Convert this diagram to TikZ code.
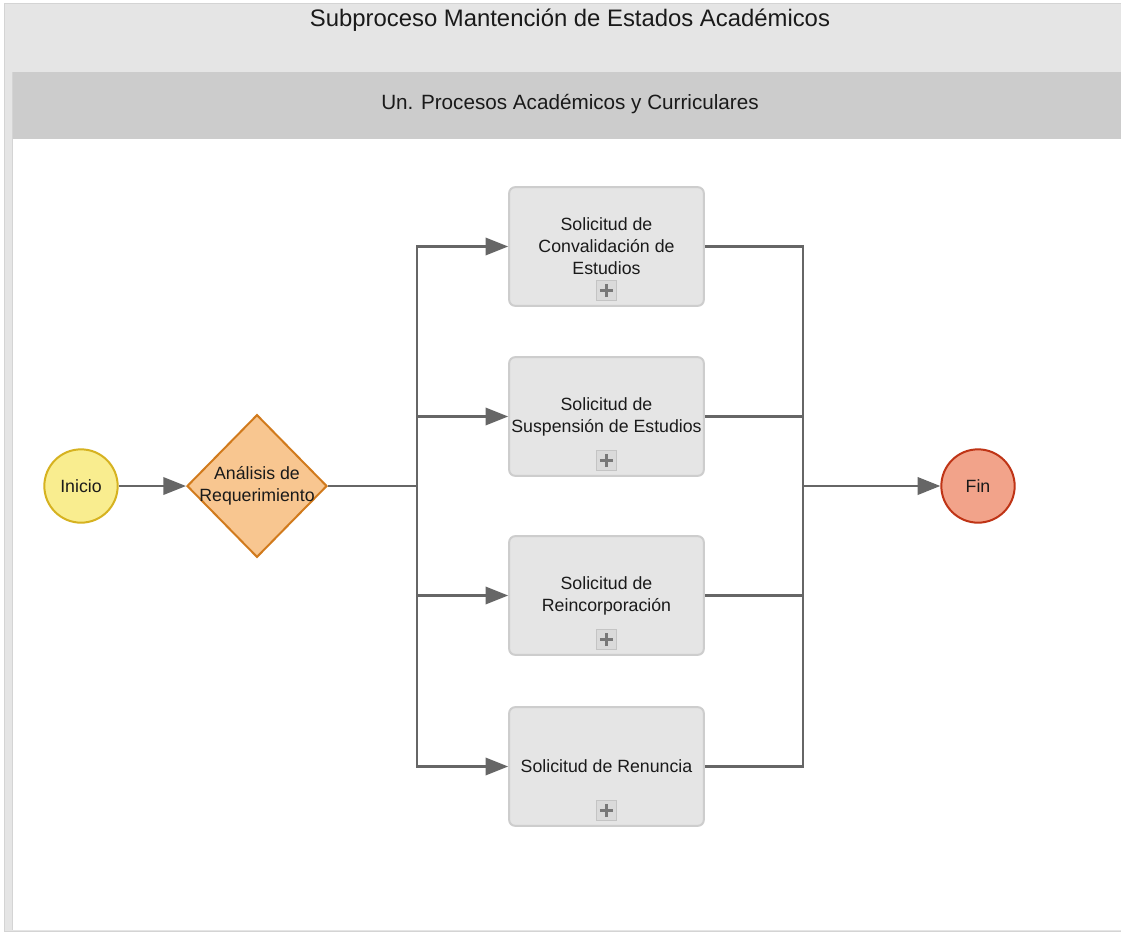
\documentclass[tikz,border=0pt]{standalone}
\usepackage{fontspec}
\setmainfont{Liberation Sans}
\usetikzlibrary{arrows.meta,calc,positioning,shapes.geometric}
\definecolor{PoolGray}{RGB}{229,229,229}
\definecolor{LaneGray}{RGB}{204,204,204}
\definecolor{FrameGray}{RGB}{212,212,212}
\definecolor{FlowGray}{RGB}{102,102,102}
\definecolor{InkBlack}{RGB}{26,26,26}
\definecolor{InicioFill}{RGB}{249,237,143}
\definecolor{InicioLine}{RGB}{214,178,32}
\definecolor{GateFill}{RGB}{248,198,144}
\definecolor{GateLine}{RGB}{209,122,28}
\definecolor{FinFill}{RGB}{242,163,138}
\definecolor{FinLine}{RGB}{191,52,22}
\definecolor{BoxFill}{RGB}{229,229,229}
\definecolor{BoxLine}{RGB}{205,205,205}
\definecolor{PlusFill}{RGB}{218,218,218}
\definecolor{PlusLine}{RGB}{196,196,196}
\definecolor{PlusInk}{RGB}{120,120,120}

\begin{document}
\begin{tikzpicture}[x=0.75pt,y=-0.75pt,>={Triangle[length=17pt,width=13pt]},
    every node/.style={text=InkBlack,font=\fontsize{13.3}{16.5}\selectfont},
    flow/.style={draw=FlowGray,line width=1.9pt},
    startev/.style={circle,draw=InicioLine,fill=InicioFill,line width=1.5pt,minimum size=55pt,inner sep=0pt},
    endev/.style={circle,draw=FinLine,fill=FinFill,line width=1.5pt,minimum size=55pt,inner sep=0pt},
    gateway/.style={diamond,draw=GateLine,fill=GateFill,line width=1.5pt,minimum width=105pt,minimum height=107pt,inner sep=0pt},
    subproc/.style={rectangle,rounded corners=4.5pt,draw=BoxLine,fill=BoxFill,line width=1.5pt,
      minimum width=146pt,minimum height=89pt,align=center,inner sep=0pt},
    plusbox/.style={rectangle,minimum size=15pt,inner sep=0pt,fill=PlusFill,draw=PlusLine,line width=0.75pt,
      path picture={\draw[PlusInk,line width=1.8pt]
        ($(path picture bounding box.center)+(-5pt,0pt)$) -- ($(path picture bounding box.center)+(5pt,0pt)$)
        ($(path picture bounding box.center)+(0pt,-5pt)$) -- ($(path picture bounding box.center)+(0pt,5pt)$);}}]
  \useasboundingbox (0,0) rectangle (1121,933);
  % pool and lane
  \fill[PoolGray] (4,3) rectangle (1121,931);
  \draw[FrameGray,line width=0.75pt] (1121,3) -- (4,3) -- (4,931) -- (1121,931);
  \fill[LaneGray] (12,72) rectangle (1121,139);
  \fill[white] (12,139) rectangle (1121,930);
  \draw[FrameGray,line width=0.75pt] (12,72) -- (12,930);
  \node (titulo) at (570,20) [font=\fontsize{17.9}{21}\selectfont] {Subproceso Mantención de Estados Académicos};
  \node (unidad) at (570,104) [font=\fontsize{15.5}{18}\selectfont] {Un. Procesos Académicos y Curriculares};

  \node[startev] (inicio) at (81,486) {Inicio};
  \node[gateway] (analisis) at (257,486) {};
  \node[align=center] (analisistxt) at (analisis) {Análisis de\\Requerimiento};
  \node[subproc] (s1) at (606.5,246.5) {Solicitud de\\Convalidación de\\Estudios};
  \node[subproc] (s2) at (606.5,416.5) {Solicitud de\\Suspensión de Estudios};
  \node[subproc] (s3) at (606.5,595.5) {Solicitud de\\Reincorporación};
  \node[subproc] (s4) at (606.5,766.5) {Solicitud de Renuncia};
  \node[plusbox,above=4.5pt of s1.south] (plus1) {};
  \node[plusbox,above=4.5pt of s2.south] (plus2) {};
  \node[plusbox,above=4.5pt of s3.south] (plus3) {};
  \node[plusbox,above=4.5pt of s4.south] (plus4) {};
  \node[endev] (fin) at (978,486) {Fin};
  \coordinate (split) at (417,486);
  \coordinate (join) at (803,486);

  \draw[flow,->] (inicio) -- (analisis.west);
  \draw[flow] (analisis.east) -- (split);
  \foreach \s in {s1,s2,s3,s4} {
    \draw[flow,->] (split) |- (\s.west);
    \draw[flow] (\s.east) -| (join);
  }
  \draw[flow,->] (join) -- (fin.west);
\end{tikzpicture}
\end{document}
